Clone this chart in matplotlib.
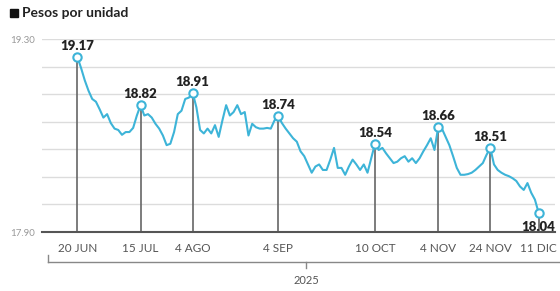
import pandas as pd
import numpy as np
import matplotlib.pyplot as plt
from matplotlib.lines import Line2D
from matplotlib.patches import Rectangle

plt.rcParams['font.family'] = ['Lato', 'DejaVu Sans']

# tipo de cambio, pesos por unidad (dias habiles 20 jun - 11 dic 2025)
dates = pd.bdate_range('2025-06-20', '2025-12-11')
values = [
    19.17, 19.09, 19.00, 18.925, 18.865, 18.845, 18.79, 18.73, 18.755, 18.69,
    18.65, 18.64, 18.605, 18.625, 18.625, 18.655, 18.745, 18.82, 18.745, 18.755,
    18.73, 18.685, 18.65, 18.60, 18.53, 18.54, 18.625, 18.755, 18.78, 18.865,
    18.875, 18.91, 18.805, 18.64, 18.615, 18.65, 18.615, 18.675, 18.59, 18.71,
    18.82, 18.745, 18.77, 18.82, 18.755, 18.77, 18.60, 18.685, 18.66, 18.65,
    18.65, 18.655, 18.65, 18.71, 18.74, 18.69, 18.65, 18.615, 18.58, 18.555,
    18.485, 18.45, 18.39, 18.33, 18.375, 18.39, 18.35, 18.35, 18.425, 18.51,
    18.365, 18.365, 18.315, 18.375, 18.425, 18.39, 18.35, 18.39, 18.33, 18.435,
    18.54, 18.495, 18.51, 18.47, 18.435, 18.40, 18.41, 18.435, 18.45, 18.41,
    18.435, 18.40, 18.435, 18.485, 18.53, 18.58, 18.495, 18.66, 18.65, 18.59,
    18.53, 18.45, 18.365, 18.315, 18.315, 18.32, 18.33, 18.35, 18.375, 18.40,
    18.46, 18.51, 18.39, 18.35, 18.33, 18.315, 18.305, 18.29, 18.27, 18.23,
    18.205, 18.255, 18.185, 18.135, 18.04,
]

mark_dates = ['2025-06-20', '2025-07-15', '2025-08-04', '2025-09-04',
              '2025-10-10', '2025-11-04', '2025-11-24', '2025-12-11']
tick_labels = ['20 JUN', '15 JUL', '4 AGO', '4 SEP', '10 OCT', '4 NOV', '24 NOV', '11 DIC']

s = pd.Series(values, index=dates)
x = np.arange(len(s))
mark_idx = [dates.get_loc(pd.Timestamp(d)) for d in mark_dates]

blue = '#3db4d8'
fig = plt.figure(figsize=(5.6, 2.91), dpi=100)
ax = fig.add_axes([42/560, 1-232/291, 513/560, 193/291])

ymin, ymax = 17.90, 19.30
ax.set_ylim(ymin, ymax)
ax.set_xlim(-9.5, 128.4)

yt = np.round(np.arange(ymin, ymax + 0.01, 0.2), 2)
ax.set_yticks(yt)
ax.set_yticklabels(['%.2f' % v if v in (ymin, ymax) else '' for v in yt],
                   fontsize=7, color='#999999')
ax.grid(axis='y', color='#dcdcdc', lw=1)
ax.set_axisbelow(True)
for sp in ['top', 'right', 'left']:
    ax.spines[sp].set_visible(False)
ax.spines['bottom'].set_color('#555555')
ax.spines['bottom'].set_linewidth(1.5)
ax.tick_params(axis='y', length=0, pad=5)
ax.tick_params(axis='x', length=0, pad=8)
ax.set_xticks(mark_idx)
ax.set_xticklabels(tick_labels, fontsize=8.5, color='#555555')

# lineas verticales desde los puntos marcados
for i in mark_idx:
    ax.plot([i, i], [ymin, values[i]], color='#666666', lw=1.2, zorder=2)

ax.plot(x, s.values, color=blue, lw=1.5, zorder=3)
ax.plot(mark_idx, [values[i] for i in mark_idx], 'o', ms=6, mfc='white',
        mec=blue, mew=1.5, zorder=4)

for i in mark_idx:
    if i == mark_idx[-1]:
        off = -10
    else:
        off = 8
    ax.annotate('%.2f' % values[i], (i, values[i]), xytext=(0, off),
                textcoords='offset points', ha='center', va='center',
                fontsize=9.5, fontweight='heavy', color='#222222', zorder=5)

# corchete del anio
W, H = 560, 291
fig.add_artist(Line2D([48/W, 1], [1-262/H, 1-262/H], color='#888888', lw=1))
fig.add_artist(Line2D([48/W, 48/W], [1-262/H, 1-255/H], color='#888888', lw=1))
fig.add_artist(Line2D([306/W, 306/W], [1-262/H, 1-268/H], color='#888888', lw=1))
fig.text(306/W, 1-280/H, '2025', ha='center', va='center', fontsize=8, color='#555555')

# titulo
fig.add_artist(Rectangle((10/W, 1-17/H), 8/W, 8/H, color='#111111'))
fig.text(22/W, 1-13/H, 'Pesos por unidad', ha='left', va='center',
         fontsize=10, fontweight='bold', color='#222222')

fig.savefig('out.png', dpi=100)
